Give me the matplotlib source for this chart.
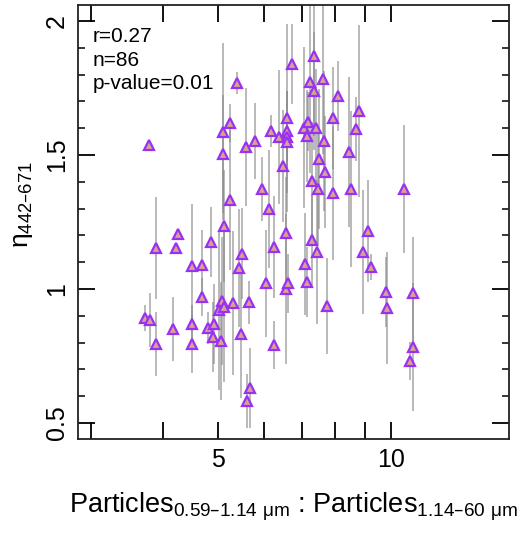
import matplotlib
matplotlib.use("Agg")

import matplotlib.pyplot as plt
from matplotlib.ticker import FixedLocator, NullFormatter, FixedFormatter, MultipleLocator

plt.rcParams["font.family"] = ["Liberation Sans", "DejaVu Sans"]
plt.rcParams["mathtext.default"] = "regular"

# particle size ratio (x) vs angstrom exponent eta 442-671 (y), with error (yerr)
ratio = [3.78, 5.39, 6.72, 7.35, 7.23, 7.35, 7.62, 5.24, 5.10, 5.10,
         5.59, 5.80, 6.18, 6.38, 6.59, 6.59, 6.59, 6.59, 7.06, 7.17,
         7.14, 7.41, 6.49, 7.29, 7.47, 7.50, 5.96, 5.24, 6.13, 8.09,
         8.80, 7.93, 8.70, 7.65, 8.46, 7.68, 7.93, 8.53, 10.55, 5.12,
         4.25, 3.89, 4.22, 4.86, 4.50, 4.68, 5.50, 5.43, 6.56, 6.25,
         7.29, 7.44, 7.09, 7.14, 6.06, 6.56, 6.62, 4.68, 5.07, 5.01,
         5.12, 5.30, 5.66, 3.72, 3.80, 4.17, 4.50, 4.80, 4.91, 4.89,
         5.05, 3.89, 4.50, 5.48, 6.25, 5.68, 5.61, 7.74, 9.13, 8.95,
         9.24, 9.81, 9.85, 10.94, 10.94, 10.81]
eta = [1.537, 1.769, 1.840, 1.869, 1.772, 1.739, 1.784, 1.619, 1.586, 1.504,
       1.530, 1.552, 1.590, 1.567, 1.638, 1.590, 1.567, 1.549, 1.601, 1.623,
       1.571, 1.601, 1.459, 1.403, 1.373, 1.485, 1.373, 1.332, 1.299, 1.720,
       1.664, 1.638, 1.597, 1.552, 1.511, 1.437, 1.358, 1.373, 1.373, 1.235,
       1.205, 1.153, 1.153, 1.175, 1.086, 1.090, 1.131, 1.078, 1.209, 1.157,
       1.183, 1.138, 1.093, 1.026, 1.022, 1.000, 1.022, 0.970, 0.955, 0.922,
       0.933, 0.948, 0.951, 0.892, 0.884, 0.851, 0.869, 0.854, 0.869, 0.821,
       0.806, 0.795, 0.795, 0.832, 0.791, 0.631, 0.582, 0.937, 1.216, 1.138,
       1.082, 0.989, 0.929, 0.985, 0.784, 0.731]
eta_err = [0.01, 0.04, 0.15, 0.30, 0.34, 0.22, 0.28, 0.07, 0.33, 0.22,
           0.22, 0.14, 0.06, 0.25, 0.35, 0.15, 0.09, 0.19, 0.30, 0.11,
           0.17, 0.22, 0.21, 0.22, 0.21, 0.26, 0.12, 0.26, 0.22, 0.13,
           0.32, 0.19, 0.12, 0.26, 0.28, 0.21, 0.25, 0.29, 0.24, 0.21,
           0.02, 0.19, 0.02, 0.13, 0.23, 0.13, 0.17, 0.22, 0.21, 0.19,
           0.17, 0.27, 0.19, 0.13, 0.20, 0.28, 0.11, 0.07, 0.24, 0.30,
           0.28, 0.27, 0.08, 0.05, 0.10, 0.12, 0.07, 0.06, 0.15, 0.13,
           0.22, 0.12, 0.11, 0.24, 0.09, 0.15, 0.10, 0.18, 0.19, 0.23,
           0.05, 0.13, 0.21, 0.21, 0.24, 0.07]

x_ticks = [3, 4, 5, 6, 7, 8, 9, 10]
x_ticklabels = ["", "", "5", "", "", "", "", "10"]
stats_text = "r=0.27\nn=86\np-value=0.01"

fig = plt.figure(figsize=(5.24, 5.33), dpi=100)
ax = fig.add_axes([0.148, 0.176, 0.824, 0.815])

ax.errorbar(ratio, eta, yerr=eta_err, fmt="none", ecolor="#8a8a8a",
            elinewidth=1.2, alpha=0.7, zorder=2)
ax.plot(ratio, eta, linestyle="none", marker="^", markersize=7.2,
        markerfacecolor="#d4a58c", markeredgecolor="#9b30f5",
        markeredgewidth=1.6, zorder=3)

ax.set_xscale("log")
ax.set_xlim(2.84, 16.1)
ax.set_ylim(0.44, 2.06)

ax.xaxis.set_major_locator(FixedLocator(x_ticks))
ax.xaxis.set_major_formatter(FixedFormatter(x_ticklabels))
ax.xaxis.set_minor_locator(FixedLocator([]))
ax.xaxis.set_minor_formatter(NullFormatter())
ax.yaxis.set_minor_locator(MultipleLocator(0.1))
ax.set_yticks([0.5, 1, 1.5, 2])
ax.set_yticklabels(["0.5", "1", "1.5", "2"], rotation=90, va="center")

ax.tick_params(which="major", direction="in", length=12, width=1.3,
               top=True, right=True, labelsize=18, pad=6)
ax.tick_params(which="minor", direction="in", length=5, width=1.1,
               right=True)
for sp in ax.spines.values():
    sp.set_linewidth(1.3)
    sp.set_color("#222222")

ax.set_xlabel("Particles$_{0.59\u20131.14\\ \u03bcm}$ : Particles$_{1.14\u201360\\ \u03bcm}$",
              fontsize=19.5, labelpad=14)
ax.set_ylabel("\u03b7$_{442\u2013671}$", fontsize=19)
ax.yaxis.set_label_coords(-0.098, 0.54)

ax.text(0.034, 0.948, stats_text, transform=ax.transAxes, fontsize=15,
        va="top", ha="left", linespacing=1.3)

plt.savefig("out.png", dpi=100)
plt.close()
